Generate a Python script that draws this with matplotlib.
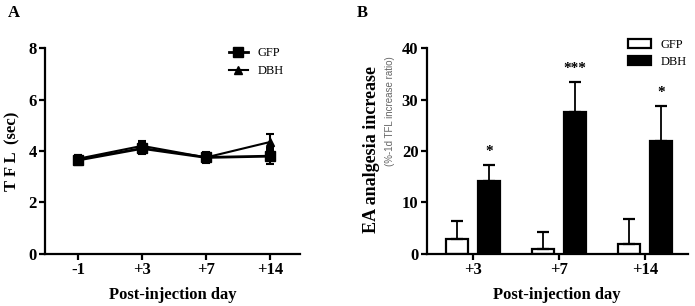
import matplotlib.pyplot as plt
from matplotlib.lines import Line2D
import numpy as np

plt.rcParams["font.family"] = ["Liberation Serif", "DejaVu Serif"]
plt.rcParams["font.weight"] = "bold"

# Panel A data
days_a = ["-1", "+3", "+7", "+14"]
gfp_tfl = [3.65, 4.1, 3.75, 3.8]
gfp_tfl_err = [0.2, 0.2, 0.2, 0.3]
dbh_tfl = [3.7, 4.2, 3.75, 4.35]
dbh_tfl_err = [0.15, 0.2, 0.15, 0.3]

# Panel B data
days_b = ["+3", "+7", "+14"]
gfp_inc = [3.0, 1.0, 2.0]
gfp_inc_err = [3.5, 3.2, 4.8]
dbh_inc = [14.2, 27.5, 22.0]
dbh_inc_err = [3.1, 6.0, 6.8]
stars = ["*", "***", "*"]

fig = plt.figure(figsize=(6.95, 3.06), dpi=100)
ax1 = fig.add_axes([0.0647, 0.170, 0.367, 0.673])
ax2 = fig.add_axes([0.614, 0.170, 0.3755, 0.673])


def style_axes(ax):
    for s in ["top", "right"]:
        ax.spines[s].set_visible(False)
    for s in ["left", "bottom"]:
        ax.spines[s].set_linewidth(1.6)
    ax.tick_params(direction="out", length=4, width=1.6, labelsize=12, pad=2)
    for lab in ax.get_xticklabels() + ax.get_yticklabels():
        lab.set_fontweight("bold")


# ---- Panel A ----
xa = np.arange(len(days_a))
ax1.errorbar(xa, gfp_tfl, yerr=gfp_tfl_err, color="black", marker="s", ms=7,
             lw=2, capsize=3, capthick=1.5, elinewidth=1.5)
ax1.errorbar(xa, dbh_tfl, yerr=dbh_tfl_err, color="black", marker="^", ms=6,
             lw=1.5, capsize=3, capthick=1.5, elinewidth=1.5)
ax1.set_xlim(-0.52, 3.47)
ax1.set_ylim(0, 8)
ax1.set_yticks([0, 2, 4, 6, 8])
ax1.set_xticks(xa)
ax1.set_xticklabels(days_a)
ax1.set_xlabel("Post-injection day", fontsize=12, fontweight="bold", labelpad=6)
ax1.set_ylabel("T F L  (sec)", fontsize=12, fontweight="bold", labelpad=6)
style_axes(ax1)
handles_a = [Line2D([], [], color="black", marker="s", ms=7, lw=2),
             Line2D([], [], color="black", marker="^", ms=6, lw=1.5)]
leg1 = ax1.legend(handles_a, ["GFP", "DBH"], loc="upper right",
                  bbox_to_anchor=(0.98, 1.06), frameon=False, fontsize=9,
                  handlelength=1.5, labelspacing=0.5, handletextpad=0.8)
for t in leg1.get_texts():
    t.set_fontweight("normal")
fig.text(0.012, 0.945, "A", fontsize=12, fontweight="bold")

# ---- Panel B ----
xb = np.arange(len(days_b))
w = 0.256
off = 0.186
ax2.bar(xb - off, gfp_inc, w, color="white", edgecolor="black", linewidth=1.6,
        label="GFP")
ax2.errorbar(xb - off, gfp_inc, yerr=[np.zeros(3), gfp_inc_err], fmt="none",
             ecolor="black", elinewidth=1.3, capsize=4, capthick=1.6)
ax2.bar(xb + off, dbh_inc, w, color="black", edgecolor="black", linewidth=1.6,
        label="DBH")
ax2.errorbar(xb + off, dbh_inc, yerr=[np.zeros(3), dbh_inc_err], fmt="none",
             ecolor="black", elinewidth=1.3, capsize=4, capthick=1.6)
for xi, yi, ei, s in zip(xb + off, dbh_inc, dbh_inc_err, stars):
    ax2.text(xi, yi + ei + 1.3, s, ha="center", va="bottom", fontsize=11,
             fontweight="bold")
ax2.set_xlim(-0.535, 2.5)
ax2.set_ylim(0, 40)
ax2.set_yticks([0, 10, 20, 30, 40])
ax2.set_xticks(xb)
ax2.set_xticklabels(days_b)
ax2.set_xlabel("Post-injection day", fontsize=12, fontweight="bold", labelpad=6)
style_axes(ax2)
fig.text(0.535, 0.51, "EA analgesia increase", rotation=90,
         ha="center", va="center", fontsize=13, fontweight="bold")
fig.text(0.561, 0.637, "(%-1d TFL increase ratio)", rotation=90,
         ha="center", va="center", fontsize=7, fontweight="normal",
         color="#666666", family=["Liberation Sans", "DejaVu Sans"])
leg2 = ax2.legend(loc="upper right", bbox_to_anchor=(1.04, 1.10), frameon=False,
                  fontsize=9, handlelength=1.8, handleheight=0.8,
                  labelspacing=0.4, handletextpad=0.8)
for t in leg2.get_texts():
    t.set_fontweight("normal")
fig.text(0.514, 0.945, "B", fontsize=12, fontweight="bold")

fig.savefig("out.png", dpi=100)
